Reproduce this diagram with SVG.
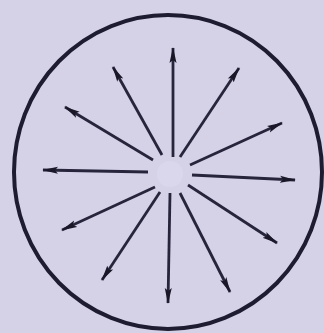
<svg xmlns="http://www.w3.org/2000/svg" width="324" height="333" viewBox="0 0 324 333">
<style>
.bg{fill:#d5d2e8}
.rim{fill:none;stroke:#1e1c30;stroke-width:4}
.ray{stroke:#27253c;stroke-width:2.8;fill:none;marker-end:url(#ah)}
</style>
<defs>
<marker id="ah" viewBox="0 0 16 9" refX="15" refY="4.5" markerWidth="16" markerHeight="9" markerUnits="userSpaceOnUse" orient="auto">
<path d="M0,1 L16,4.5 L0,8 L3,4.5 Z" fill="#1a1828"/>
</marker>
</defs>
<rect class="bg" x="0" y="0" width="324" height="333"/>
<g id="boundary">
<ellipse class="rim" cx="168" cy="172" rx="154" ry="157"/>
<circle cx="170" cy="174" r="13" fill="#dad7ec"/>
</g>
<g id="rays">
<line class="ray" x1="173" y1="157" x2="173" y2="48"/>
<line class="ray" x1="162" y1="155" x2="113" y2="67"/>
<line class="ray" x1="180" y1="157" x2="239" y2="68"/>
<line class="ray" x1="153" y1="160" x2="65" y2="107"/>
<line class="ray" x1="190" y1="165" x2="282" y2="123"/>
<line class="ray" x1="148" y1="172" x2="43" y2="170"/>
<line class="ray" x1="192" y1="175" x2="295" y2="180"/>
<line class="ray" x1="155" y1="187" x2="62" y2="230"/>
<line class="ray" x1="188" y1="185" x2="277" y2="243"/>
<line class="ray" x1="160" y1="192" x2="102" y2="280"/>
<line class="ray" x1="170" y1="193" x2="168" y2="303"/>
<line class="ray" x1="180" y1="193" x2="230" y2="292"/>
</g>
</svg>
